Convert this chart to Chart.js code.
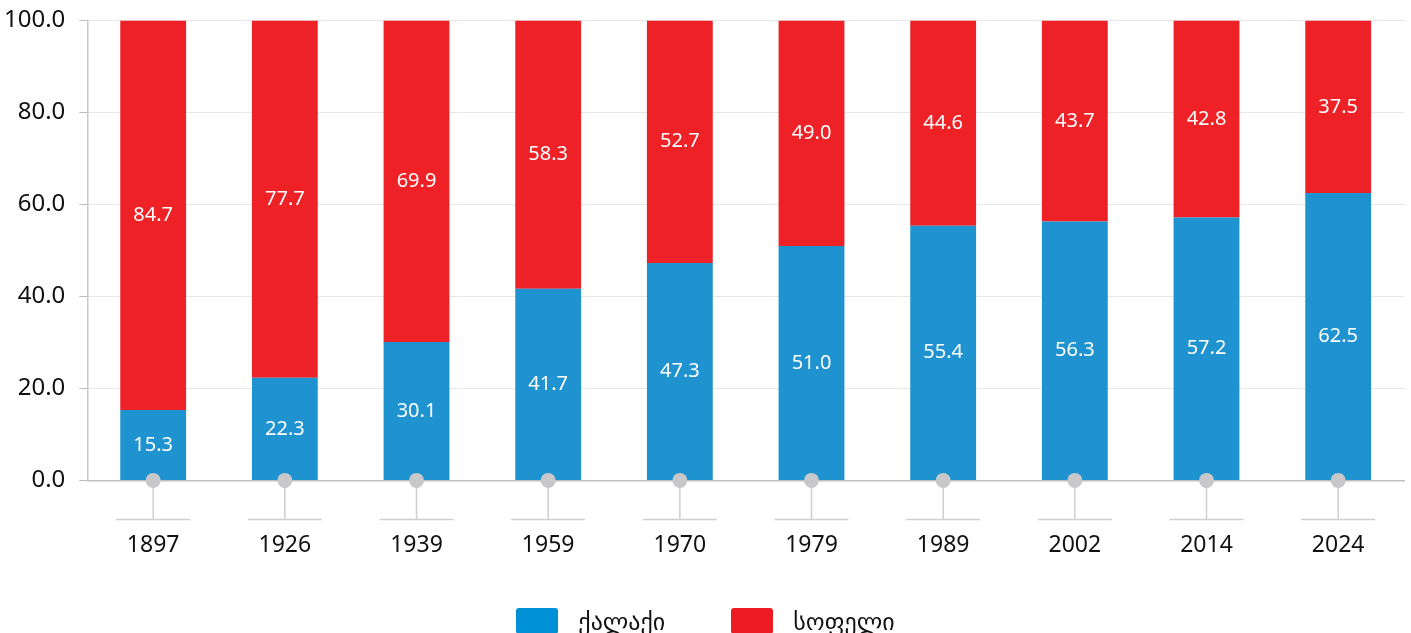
<!DOCTYPE html>
<html>
<head>
<meta charset="utf-8">
<script src="https://cdn.jsdelivr.net/npm/chart.js@4/dist/chart.umd.min.js"></script>
<style>
  html, body { margin: 0; padding: 0; background: #fff; overflow: hidden; }
  #wrap { position: relative; width: 1411px; height: 633px; }
  #legend {
    position: absolute; left: 0; top: 607px; width: 1411px;
    display: flex; justify-content: center; gap: 66px;
    font: 24px "Noto Sans", "DejaVu Sans", sans-serif; color: #111;
  }
  #legend .item { display: flex; align-items: flex-start; gap: 20px; line-height: 28px; }
  #legend .box { width: 42px; height: 26px; border-radius: 3px; margin-top: 1px; }
</style>
</head>
<body>
<div id="wrap">
  <canvas id="popChart"></canvas>
  <div id="legend"></div>
</div>
<script>
const years = ['1897', '1926', '1939', '1959', '1970', '1979', '1989', '2002', '2014', '2024'];
const urban = [15.3, 22.3, 30.1, 41.7, 47.3, 51.0, 55.4, 56.3, 57.2, 62.5];
const rural = [84.7, 77.7, 69.9, 58.3, 52.7, 49.0, 44.6, 43.7, 42.8, 37.5];
const seriesNames = ['ქალაქი', 'სოფელი'];
const yTicks = [0, 20, 40, 60, 80, 100];

const FONT = '"Noto Sans", "DejaVu Sans", sans-serif';
const legendColors = ['#0090d6', '#ed1c24'];

// white value labels in the middle of each bar segment
const valueLabels = {
  id: 'valueLabels',
  afterDatasetsDraw(chart) {
    const ctx = chart.ctx;
    ctx.save();
    ctx.fillStyle = '#fff';
    ctx.font = '20px ' + FONT;
    ctx.textAlign = 'center';
    ctx.textBaseline = 'middle';
    chart.data.datasets.forEach((ds, i) => {
      chart.getDatasetMeta(i).data.forEach((bar, j) => {
        const p = bar.getCenterPoint();
        ctx.fillText(ds.data[j].toFixed(1), p.x, p.y);
      });
    });
    ctx.restore();
  }
};

// grey "pin" markers under each category
const pins = {
  id: 'pins',
  afterDraw(chart) {
    const ctx = chart.ctx;
    const x = chart.scales.x;
    const base = chart.scales.y.getPixelForValue(0);
    ctx.save();
    x.ticks.forEach((t, i) => {
      const px = x.getPixelForTick(i);
      ctx.strokeStyle = '#cfcfcf';
      ctx.lineWidth = 1.5;
      ctx.beginPath();
      ctx.moveTo(px, base);
      ctx.lineTo(px, base + 39);
      ctx.moveTo(px - 37, base + 39);
      ctx.lineTo(px + 37, base + 39);
      ctx.stroke();
      ctx.fillStyle = '#c8c8ca';
      ctx.beginPath();
      ctx.arc(px, base, 7.5, 0, Math.PI * 2);
      ctx.fill();
    });
    ctx.restore();
  }
};

new Chart(document.getElementById('popChart'), {
  type: 'bar',
  data: {
    labels: years,
    datasets: [
      { label: seriesNames[0], data: urban, backgroundColor: '#1f93d0' },
      { label: seriesNames[1], data: rural, backgroundColor: '#ee2126' }
    ]
  },
  options: {
    responsive: true,
    maintainAspectRatio: false,
    animation: false,
    categoryPercentage: 1,
    barPercentage: 0.5,
    layout: { padding: { left: -10, right: 7, top: 0, bottom: 31 } },
    plugins: {
      tooltip: { enabled: false },
      legend: { display: false }
    },
    scales: {
      x: {
        stacked: true,
        grid: { display: false },
        border: { color: '#bdbdbd', width: 1.5 },
        ticks: { font: { size: 23, family: FONT }, color: '#111', padding: 43 }
      },
      y: {
        stacked: true,
        min: 0,
        max: 100,
        afterBuildTicks: (axis) => { axis.ticks = yTicks.map(v => ({ value: v })); },
        grid: { color: '#e6e6e6', tickLength: 8, tickColor: '#bdbdbd' },
        border: { color: '#c8c8c8', width: 1.5 },
        ticks: {
          font: { size: 24, family: FONT, lineHeight: 0.55 },
          color: '#111',
          padding: 14,
          callback: (v) => Number(v).toFixed(1)
        }
      }
    }
  },
  plugins: [valueLabels, pins]
});

// legend built from the series names
const legend = document.getElementById('legend');
seriesNames.forEach((name, i) => {
  const item = document.createElement('div');
  item.className = 'item';
  const box = document.createElement('span');
  box.className = 'box';
  box.style.background = legendColors[i];
  const label = document.createElement('span');
  label.textContent = name;
  item.appendChild(box);
  item.appendChild(label);
  legend.appendChild(item);
});
</script>
</body>
</html>
